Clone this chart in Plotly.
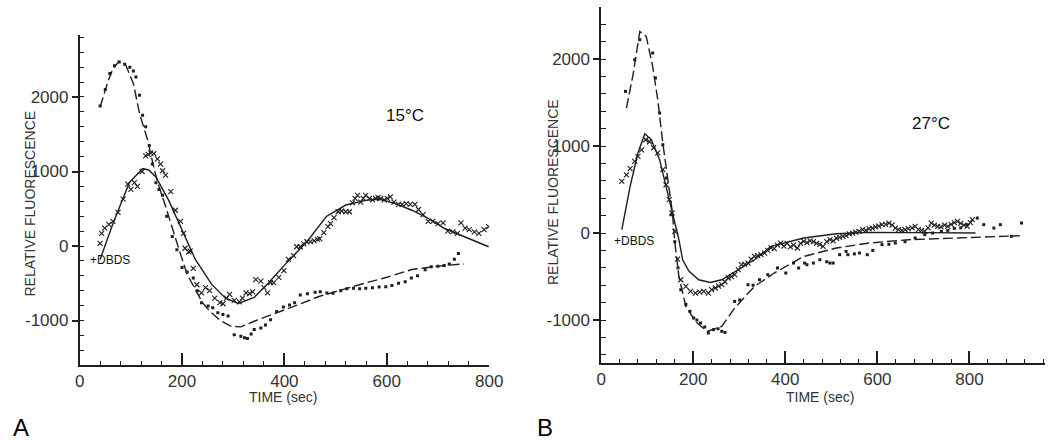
import plotly.graph_objects as go

W, H = 1059, 440

# ---------------- Panel A (15 C) ----------------
a_dash_t = [40, 55, 65, 77, 90, 105, 117, 133, 146, 155, 168, 180, 194, 210, 226, 240, 255, 275, 296, 315, 341, 386, 430, 469, 520, 559, 600, 649, 700, 732, 751]
a_dash_v = [1866, 2200, 2380, 2479, 2430, 2180, 1777, 1420, 1020, 800, 530, 250, -44, -380, -590, -760, -880, -1000, -1077, -1085, -1010, -898, -780, -674, -570, -495, -420, -316, -270, -249, -240]

a_dot_t = [40, 50, 59, 68, 77, 88, 98, 105, 110, 117, 123, 129, 136, 142, 149, 155, 162, 170, 181, 190, 200, 210, 222, 230, 238, 251, 260, 270, 280, 290, 302, 315, 322, 328, 335, 341, 354, 363, 373, 385, 398, 410, 420, 431, 445, 460, 470, 483, 495, 510, 522, 535, 547, 559, 572, 585, 598, 610, 623, 636, 648, 660, 675, 687, 700, 712, 722, 732, 740]
a_dot_v = [1880, 2100, 2314, 2420, 2470, 2440, 2400, 2350, 2268, 2023, 1755, 1600, 1350, 1100, 850, 760, 680, 400, 127, -50, -290, -350, -430, -600, -760, -805, -830, -895, -920, -940, -1190, -1210, -1230, -1240, -1180, -1120, -1100, -1060, -990, -880, -820, -792, -760, -658, -640, -620, -613, -630, -635, -600, -575, -568, -575, -568, -560, -550, -546, -530, -501, -480, -430, -400, -320, -278, -270, -260, -240, -177, -100]

a_x_t = [40, 43, 49, 57, 65, 75, 85, 94, 100, 107, 113, 122, 129, 134, 139, 145, 152, 158, 162, 168, 178, 187, 197, 203, 206, 213, 216, 222, 229, 238, 246, 254, 264, 274, 280, 287, 293, 302, 312, 318, 325, 332, 338, 344, 354, 360, 367, 373, 379, 389, 399, 408, 418, 424, 431, 438, 444, 451, 458, 465, 469, 477, 485, 490, 497, 505, 512, 520, 527, 533, 538, 543, 549, 554, 559, 566, 572, 578, 583, 588, 595, 601, 607, 614, 623, 630, 638, 646, 655, 662, 671, 681, 690, 700, 710, 719, 729, 738, 745, 753, 761, 771, 780, 790, 799]
a_x_v = [36, 170, 240, 290, 330, 450, 630, 830, 760, 850, 800, 1000, 1210, 1230, 1250, 1240, 1170, 1100, 1010, 950, 730, 480, 330, 170, -30, -80, -70, -300, -520, -630, -560, -600, -700, -760, -775, -700, -650, -730, -750, -700, -630, -640, -615, -450, -470, -560, -630, -490, -490, -420, -330, -180, -130, -10, -10, 30, 57, 60, 70, 90, 100, 180, 260, 300, 380, 460, 470, 460, 460, 580, 640, 680, 590, 640, 680, 640, 620, 640, 650, 640, 620, 640, 660, 590, 560, 560, 570, 560, 560, 490, 420, 330, 330, 300, 310, 200, 190, 170, 310, 240, 220, 190, 170, 220, 260]

a_fit_t = [40, 65, 97, 123, 135, 149, 174, 200, 226, 258, 285, 310, 341, 367, 405, 444, 482, 520, 559, 585, 617, 649, 681, 713, 751, 799]
a_fit_v = [-180, 300, 850, 1040, 1020, 926, 613, 210, -180, -515, -700, -770, -690, -510, -220, 57, 396, 550, 613, 630, 570, 480, 370, 235, 123, -10]

# ---------------- Panel B (27 C) ----------------
b_dash_t = [55, 70, 84, 98, 112, 123, 134, 145, 155, 160, 169, 184, 205, 230, 262, 290, 333, 376, 440, 511, 582, 667, 767, 853, 909]
b_dash_v = [1437, 1839, 2317, 2260, 1915, 1532, 1034, 613, 230, -100, -500, -843, -1016, -1131, -1073, -862, -614, -460, -269, -172, -115, -77, -57, -38, -31]

b_dot_t = [53, 73, 84, 112, 118, 127, 134, 142, 152, 160, 167, 173, 184, 193, 201, 208, 216, 225, 233, 244, 254, 262, 269, 290, 301, 319, 330, 344, 362, 383, 401, 418, 429, 442, 447, 461, 475, 490, 497, 504, 518, 532, 536, 550, 561, 578, 590, 610, 625, 639, 660, 682, 703, 720, 739, 753, 767, 781, 795, 817, 831, 853, 867, 891, 913]
b_dot_v = [1628, 1992, 2222, 2069, 1782, 1379, 1015, 632, 210, -100, -400, -652, -820, -900, -977, -1000, -1034, -1080, -1149, -1111, -1100, -1130, -1142, -786, -770, -594, -600, -537, -479, -402, -460, -345, -402, -345, -364, -345, -307, -330, -345, -345, -249, -211, -249, -240, -230, -249, -200, -134, -130, -115, -100, -57, -19, 0, 19, 30, 54, 60, 96, 172, 96, 57, 96, -38, 115]

b_x_t = [45, 55, 63, 73, 80, 88, 97, 105, 114, 123, 134, 141, 148, 154, 160, 166, 173, 184, 194, 205, 214, 223, 233, 240, 248, 255, 262, 269, 276, 283, 290, 298, 305, 312, 319, 326, 333, 340, 347, 355, 362, 369, 376, 383, 390, 397, 404, 411, 418, 426, 433, 440, 447, 454, 461, 468, 475, 482, 490, 497, 504, 511, 518, 525, 532, 539, 546, 553, 560, 568, 575, 582, 589, 596, 603, 610, 618, 625, 632, 639, 646, 653, 660, 667, 675, 682, 689, 696, 703, 710, 717, 724, 731, 738, 746, 753, 760, 767, 774, 781, 788, 795, 802, 806]
b_x_v = [593, 669, 740, 823, 880, 957, 1072, 1049, 980, 920, 728, 555, 383, 230, 20, -300, -537, -613, -671, -690, -680, -671, -690, -650, -632, -610, -594, -560, -517, -500, -479, -420, -364, -360, -345, -300, -268, -260, -249, -230, -200, -170, -180, -140, -115, -150, -120, -160, -140, -172, -120, -96, -110, -90, -100, -120, -130, -153, -100, -77, -90, -60, -50, -38, -30, -10, 0, 10, 20, 38, 30, 50, 57, 70, 80, 96, 100, 115, 90, 57, 40, 30, 38, 50, 60, 77, 40, 30, 19, 60, 115, 90, 77, 70, 90, 77, 100, 120, 134, 110, 90, 77, 120, 153]

b_fit_t = [45, 63, 80, 95, 109, 127, 141, 155, 169, 177, 191, 212, 237, 262, 298, 333, 369, 440, 511, 582, 700, 813]
b_fit_v = [38, 536, 920, 1141, 1072, 843, 536, 230, -77, -307, -441, -537, -568, -537, -422, -307, -153, -57, -8, 8, 5, 0]

x_ticks = [0, 200, 400, 600, 800]
y_ticks = [-1000, 0, 1000, 2000]

INK = "#1e1e1e"
FONT = "Liberation Sans, Arial, sans-serif"

fig = go.Figure()

def add_panel(xa, ya, dash_t, dash_v, dot_t, dot_v, x_t, x_v, fit_t, fit_v):
    fig.add_trace(go.Scatter(x=dash_t, y=dash_v, mode="lines", xaxis=xa, yaxis=ya,
                             line=dict(color=INK, width=1.4, dash="10px,4px"), showlegend=False))
    fig.add_trace(go.Scatter(x=fit_t, y=fit_v, mode="lines", xaxis=xa, yaxis=ya,
                             line=dict(color=INK, width=1.4), showlegend=False))
    fig.add_trace(go.Scatter(x=dot_t, y=dot_v, mode="markers", xaxis=xa, yaxis=ya,
                             marker=dict(symbol="square", size=3, color=INK), showlegend=False))
    fig.add_trace(go.Scatter(x=x_t, y=x_v, mode="markers", xaxis=xa, yaxis=ya,
                             marker=dict(symbol="x-thin", size=5, line=dict(color=INK, width=1.1)),
                             showlegend=False))

add_panel("x", "y", a_dash_t, a_dash_v, a_dot_t, a_dot_v, a_x_t, a_x_v, a_fit_t, a_fit_v)
add_panel("x2", "y2", b_dash_t, b_dash_v, b_dot_t, b_dot_v, b_x_t, b_x_v, b_fit_t, b_fit_v)

def xaxis_cfg(dom, rng, anchor):
    return dict(domain=dom, range=rng, anchor=anchor, showgrid=False, zeroline=False,
                showline=True, linecolor=INK, linewidth=1.5,
                ticks="inside", ticklen=12, tickwidth=1.5, tickcolor=INK,
                tickvals=x_ticks, ticktext=[str(v) for v in x_ticks],
                tickfont=dict(family=FONT, size=17, color="#333"),
                minor=dict(ticks="inside", ticklen=4, tickwidth=1.3, dtick=40, tickcolor=INK, showgrid=False),
                fixedrange=True)

def yaxis_cfg(dom, rng, anchor):
    return dict(domain=dom, range=rng, anchor=anchor, showgrid=False, zeroline=False,
                showline=True, linecolor=INK, linewidth=1.5,
                ticks="outside", ticklen=6, tickwidth=1.5, tickcolor=INK,
                tickvals=y_ticks, ticktext=[str(v) for v in y_ticks],
                tickfont=dict(family=FONT, size=17, color="#333"),
                minor=dict(ticks="inside", ticklen=5, tickwidth=1.3, dtick=200, tickcolor=INK, showgrid=False),
                fixedrange=True)

def px(x):
    return x / W

def py(y):
    return 1 - y / H

fig.update_layout(
    width=W, height=H, margin=dict(l=0, r=0, t=0, b=0),
    paper_bgcolor="white", plot_bgcolor="white",
    xaxis=xaxis_cfg([px(76), px(493)], [0, 800], "y"),
    yaxis=yaxis_cfg([py(365), py(35)], [-1597, 2832], "x"),
    xaxis2=xaxis_cfg([px(607), 1.0], [0, 964], "y2"),
    yaxis2=yaxis_cfg([py(363), py(7)], [-1494, 2598], "x2"),
)

ann = []
def text(x, y, s, size, angle=0, color="#222"):
    ann.append(dict(x=px(x), y=py(y), xref="paper", yref="paper", text=s, showarrow=False,
                    textangle=angle, font=dict(family=FONT, size=size, color=color),
                    xanchor="center", yanchor="middle"))

text(25, 204, "RELATIVE FLUORESCENCE", 14, -90, "#333")
text(558, 192, "RELATIVE FLUORESCENCE", 14, -90, "#333")
text(283, 397, "TIME (sec)", 14, 0, "#333")
text(830, 397, "TIME (sec)", 14, 0, "#333")
text(407, 115, "15°C", 17, 0, "#111")
text(943, 123, "27°C", 17, 0, "#111")
text(107, 260, "+DBDS", 12, 0, "#111")
text(641, 241, "+DBDS", 12, 0, "#111")
text(16, 427, "A", 24, 0, "#000")
text(550, 427, "B", 24, 0, "#000")
fig.update_layout(annotations=ann)

fig.write_html("out.html")
